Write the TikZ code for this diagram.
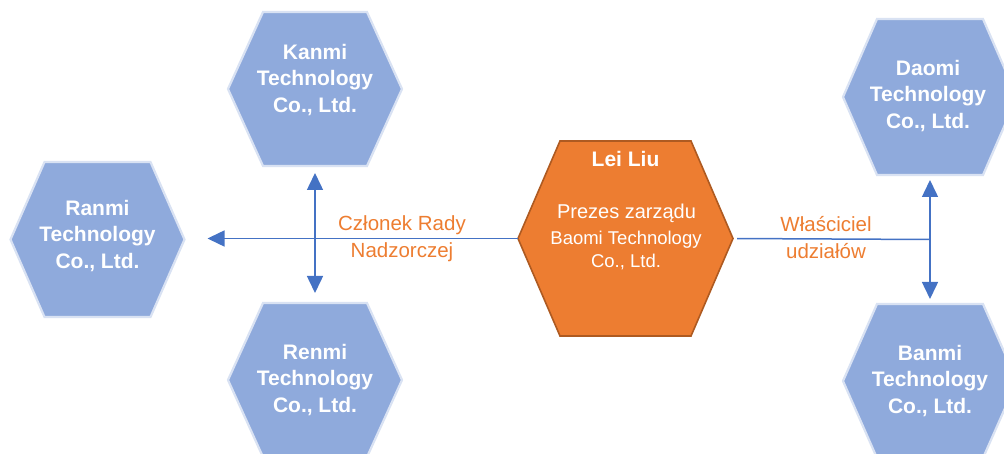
\documentclass[tikz,border=0pt]{standalone}
\usepackage{fontspec}
\setmainfont{Liberation Sans}
\usetikzlibrary{arrows.meta}
\definecolor{hexblue}{HTML}{8FAADC}
\definecolor{hexblueline}{HTML}{D9E2F3}
\definecolor{hexorange}{HTML}{ED7D31}
\definecolor{hexorangeline}{HTML}{AE5A21}
\definecolor{connblue}{HTML}{4472C4}
\definecolor{labelorange}{HTML}{ED7D31}
\newcommand\hexpath[3]{% name, inset, style
  \path[#3] (#1.west) -- ([xshift=#2]#1.north west) -- ([xshift=-#2]#1.north east)
    -- (#1.east) -- ([xshift=-#2]#1.south east) -- ([xshift=#2]#1.south west) -- cycle;}
\begin{document}
\begin{tikzpicture}[x=1pt,y=-1pt,
  >={Triangle[width=16pt,length=17pt]},
  hexbox/.style={draw=none,inner sep=0pt,outer sep=0pt,minimum width=174pt,minimum height=154pt},
  bluehex/.style={fill=hexblue,draw=hexblueline,line width=2.2pt,line join=miter},
  orangehex/.style={fill=hexorange,draw=hexorangeline,line width=1.6pt,line join=miter},
  comptext/.style={text=white,align=center,inner sep=0pt,font=\fontsize{21}{26.7}\selectfont\bfseries},
  lbl/.style={text=labelorange,align=center,inner sep=0pt,font=\fontsize{20.5}{27}\selectfont},
  conn/.style={draw=connblue,line width=1.5pt}
]
\useasboundingbox (0,0) rectangle (1004,454);
% hexagons
\node[hexbox] (kanmi) at (315,89) {};
\hexpath{kanmi}{35pt}{bluehex}
\node[hexbox,minimum height=155pt] (ranmi) at (97.5,239.5) {};
\hexpath{ranmi}{34pt}{bluehex}
\node[hexbox] (renmi) at (315,380) {};
\hexpath{renmi}{35pt}{bluehex}
\node[hexbox,minimum height=156pt] (daomi) at (930,97) {};
\hexpath{daomi}{34pt}{bluehex}
\node[hexbox] (banmi) at (930,381) {};
\hexpath{banmi}{34pt}{bluehex}
\node[hexbox,minimum width=215pt,minimum height=195pt] (lei) at (625.5,238.5) {};
\hexpath{lei}{42pt}{orangehex}
% texts
\node[comptext] (kanmit) at (315,80) {Kanmi\\Technology\\Co., Ltd.};
\node[comptext] (ranmit) at (97.5,236) {Ranmi\\Technology\\Co., Ltd.};
\node[comptext] (renmit) at (315,380) {Renmi\\Technology\\Co., Ltd.};
\node[comptext] (daomit) at (928,96) {Daomi\\Technology\\Co., Ltd.};
\node[comptext] (banmit) at (930,381) {Banmi\\Technology\\Co., Ltd.};
\node[text=white,inner sep=0pt,font=\fontsize{21}{25}\selectfont\bfseries] (leiname) at (625.5,159) {Lei Liu};
\node[text=white,inner sep=0pt,font=\fontsize{20}{25}\selectfont] (leirole) at (626.5,213) {Prezes zarządu};
\node[text=white,inner sep=0pt,align=center,font=\fontsize{18.5}{23}\selectfont] (leico) at (626,250) {Baomi Technology\\Co., Ltd.};
% connectors
\coordinate (jr) at (daomi.south |- lei.east);
\draw[conn,->,shorten >=23pt] (lei.west) -- (lei.west -| ranmi.east);
\draw[conn,<->] ([yshift=-7pt]kanmi.south) -- ([yshift=10pt]renmi.north);
\draw[conn,shorten <=4pt] (lei.east) -- ([yshift=-1pt]jr);
\draw[conn,<->] ([yshift=-5pt]daomi.south) -- ([yshift=5pt]banmi.north);
% labels
\node[lbl] (lblleft) at (402,238.5) {Członek Rady\\Nadzorczej};
\node[lbl] (lblright) at (826,237.5) {Właściciel\\udziałów};
\end{tikzpicture}
\end{document}
